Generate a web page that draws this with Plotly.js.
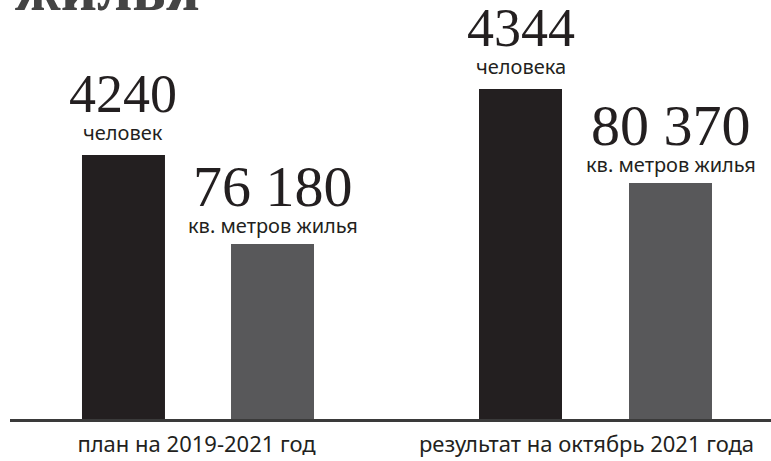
<!DOCTYPE html>
<html>
<head>
<meta charset="utf-8">
<script src="https://cdn.plot.ly/plotly-3.0.1.min.js"></script>
<style>
html,body{margin:0;padding:0;background:#fff;overflow:hidden;}
#chart{width:771px;height:461px;}
</style>
</head>
<body>
<div id="chart"></div>
<script>
// Data
var categories = ['план на 2019-2021 год', 'результат на октябрь 2021 года'];
var people = [4240, 4344];
var peopleLabels = ['человек', 'человека'];
var peopleText = ['4240', '4344'];
var meters = [76180, 80370];
var metersLabels = ['кв. метров жилья', 'кв. метров жилья'];
var metersText = ['76 180', '80 370'];
var headline = 'жилья';

// Styles
var barW = 0.2128;
var offPeople = [-0.2936, -0.2756];
var offMeters = [0.0885, 0.109];
var cPeople = '#231f20';
var cMeters = '#58585a';
var serif = 'Liberation Serif, Times New Roman, serif';
var sans = 'Noto Sans, Open Sans, sans-serif';

var xs = categories.map(function(c, i){ return i; });

var traces = [
  {type:'bar', x: xs, y: people, yaxis:'y', width: barW, offset: offPeople,
   marker:{color:cPeople}, hoverinfo:'none'},
  {type:'bar', x: xs, y: meters, yaxis:'y2', width: barW, offset: offMeters,
   marker:{color:cMeters}, hoverinfo:'none'}
];

var ann = [];
xs.forEach(function(i){
  var xp = i + offPeople[i] + barW/2;
  var xm = i + offMeters[i] + barW/2;
  ann.push({xref:'x', yref:'y', x:xp, y:people[i], yanchor:'bottom', yshift:7, showarrow:false,
    text:peopleLabels[i], font:{family:sans, size:20, color:cPeople}});
  ann.push({xref:'x', yref:'y', x:xp, y:people[i], yanchor:'bottom', yshift:29, showarrow:false,
    text:peopleText[i], font:{family:serif, size:54, color:cPeople}});
  ann.push({xref:'x', yref:'y2', x:xm, y:meters[i], yanchor:'bottom', yshift:3, showarrow:false,
    text:metersLabels[i], font:{family:sans, size:20, color:cPeople}});
  ann.push({xref:'x', yref:'y2', x:xm, y:meters[i], yanchor:'bottom', yshift:23, showarrow:false,
    text:metersText[i], font:{family:serif, size:58, color:cPeople}});
});
ann.push({xref:'paper', yref:'paper', x:0.004, y:0.938, xanchor:'left', yanchor:'bottom', showarrow:false,
  text:'<b>'+headline+'</b>', font:{family:serif, size:63, color:'#444444'}});

var layout = {
  width:771, height:461,
  margin:{l:10, r:0, t:0, b:42},
  paper_bgcolor:'#ffffff', plot_bgcolor:'#ffffff',
  showlegend:false,
  barmode:'overlay',
  xaxis:{type:'linear', range:[-0.4782, 1.4731], tickmode:'array', tickvals:xs, ticktext:categories,
    showline:true, linecolor:'#3a3a3a', linewidth:2.5, showgrid:false, zeroline:false, ticks:'',
    ticklabelstandoff:4,
    tickfont:{family:sans, size:22, color:'#231f20'}, fixedrange:true},
  yaxis:{range:[3824, 4484], visible:false, fixedrange:true},
  yaxis2:{range:[64159, 92941], visible:false, overlaying:'y', fixedrange:true},
  annotations: ann
};

Plotly.newPlot('chart', traces, layout, {displayModeBar:false, staticPlot:true});
</script>
</body>
</html>
